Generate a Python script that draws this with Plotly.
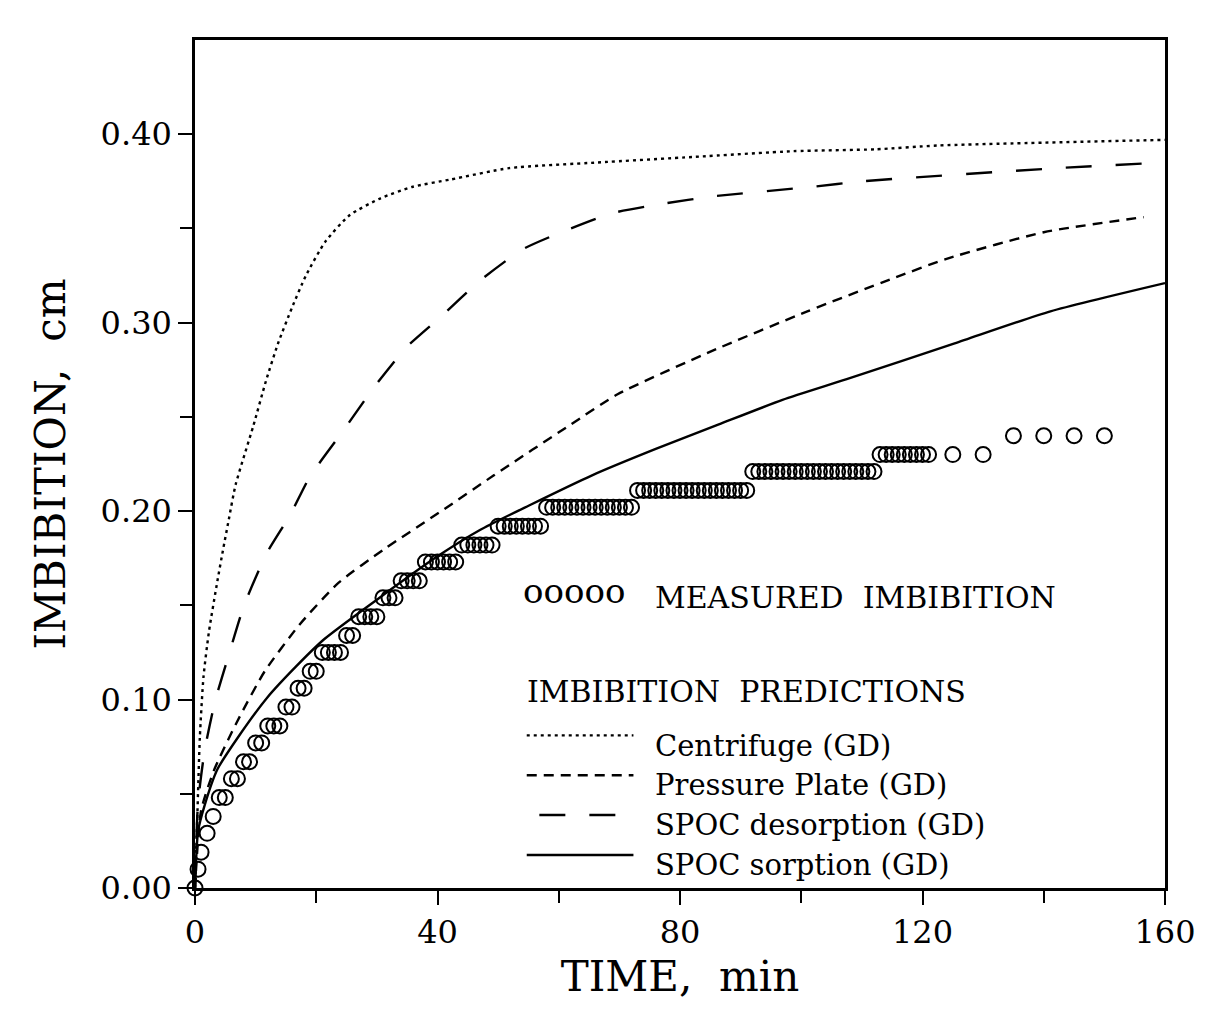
import plotly.graph_objects as go

FONT = "DejaVu Serif"

# ---------------- data ----------------
measured_time = [0, 0.5] + list(range(1, 122)) + [125, 130, 135, 140, 145, 150]
measured_imbibition = [
    0.000, 0.010,
    0.019, 0.029, 0.038, 0.048, 0.048, 0.058, 0.058, 0.067, 0.067, 0.077,
    0.077, 0.086, 0.086, 0.086, 0.096, 0.096, 0.106, 0.106, 0.115, 0.115,
    0.125, 0.125, 0.125, 0.125, 0.134, 0.134, 0.144, 0.144, 0.144, 0.144,
    0.154, 0.154, 0.154, 0.163, 0.163, 0.163, 0.163, 0.173, 0.173, 0.173,
    0.173, 0.173, 0.173, 0.182, 0.182, 0.182, 0.182, 0.182, 0.182, 0.192,
    0.192, 0.192, 0.192, 0.192, 0.192, 0.192, 0.192, 0.202, 0.202, 0.202,
    0.202, 0.202, 0.202, 0.202, 0.202, 0.202, 0.202, 0.202, 0.202, 0.202,
    0.202, 0.202, 0.211, 0.211, 0.211, 0.211, 0.211, 0.211, 0.211, 0.211,
    0.211, 0.211, 0.211, 0.211, 0.211, 0.211, 0.211, 0.211, 0.211, 0.211,
    0.211, 0.221, 0.221, 0.221, 0.221, 0.221, 0.221, 0.221, 0.221, 0.221,
    0.221, 0.221, 0.221, 0.221, 0.221, 0.221, 0.221, 0.221, 0.221, 0.221,
    0.221, 0.221, 0.230, 0.230, 0.230, 0.230, 0.230, 0.230, 0.230, 0.230,
    0.230,
    0.230, 0.230, 0.240, 0.240, 0.240, 0.240,
]

centrifuge_time = [0, 0.4, 0.8, 1.4, 2.3, 3.7, 4.6, 5.6, 6.7, 9.6, 11.7, 13.7, 16.0,
                   18.3, 21.5, 25.5, 30.6, 35.8, 42.2, 51.8, 66.4, 82.5, 98.7,
                   112.3, 122.5, 160]
centrifuge_imb = [0, 0.040, 0.080, 0.112, 0.136, 0.163, 0.179, 0.196, 0.214, 0.245,
                  0.269, 0.289, 0.308, 0.325, 0.343, 0.357, 0.366, 0.372, 0.376,
                  0.382, 0.385, 0.388, 0.391, 0.392, 0.394, 0.397]

pressure_time = [0, 1.0, 3.2, 6.9, 11.5, 17.3, 23.7, 31.3, 41.1, 49.3, 62.0, 69.7,
                 85.3, 101.0, 114.7, 124.1, 140.0, 156.5]
pressure_imb = [0, 0.041, 0.063, 0.088, 0.115, 0.140, 0.162, 0.180, 0.201, 0.219,
                0.246, 0.262, 0.285, 0.306, 0.323, 0.334, 0.348, 0.356]

desorption_time = [0, 0.5, 1.6, 3.3, 5.6, 8.1, 11.9, 15.7, 18.9, 24.3, 29.6, 34.9,
                   40.5, 46.9, 54.1, 61.2, 68.7, 77.0, 85.4, 101.5, 110.0, 142.3, 160]
desorption_imb = [0, 0.045, 0.073, 0.099, 0.124, 0.150, 0.178, 0.198, 0.218, 0.242,
                  0.266, 0.287, 0.303, 0.322, 0.339, 0.349, 0.358, 0.363, 0.367,
                  0.372, 0.375, 0.382, 0.385]

sorption_time = [0, 0.5, 1.6, 3.7, 7.1, 11.9, 16.8, 21.3, 30, 40, 47, 55.1, 65.5,
                 76.0, 86.4, 96.9, 107.5, 125.3, 141.1, 160]
sorption_imb = [0, 0.030, 0.044, 0.063, 0.080, 0.101, 0.118, 0.132, 0.153, 0.176,
                0.190, 0.203, 0.219, 0.233, 0.246, 0.259, 0.270, 0.289, 0.306, 0.321]

x_ticks = [0, 40, 80, 120, 160]
x_minor = [20, 60, 100, 140]
y_ticks = [0.0, 0.1, 0.2, 0.3, 0.4]
y_tick_text = ["0.00", "0.10", "0.20", "0.30", "0.40"]
y_minor = [0.05, 0.15, 0.25, 0.35]

legend_measured = "MEASURED  IMBIBITION"
legend_title = "IMBIBITION  PREDICTIONS"
prediction_names = ["Centrifuge (GD)", "Pressure Plate (GD)",
                    "SPOC desorption (GD)", "SPOC sorption (GD)"]

# ---------------- styles ----------------
DOT = "3px,4px"
SHORT = "10px,7px"
LONG = "26px,24px"
LW = 2.4

fig = go.Figure()

curves = [
    (centrifuge_time, centrifuge_imb, DOT, prediction_names[0]),
    (pressure_time, pressure_imb, SHORT, prediction_names[1]),
    (desorption_time, desorption_imb, LONG, prediction_names[2]),
    (sorption_time, sorption_imb, "solid", prediction_names[3]),
]
for t, v, dash, name in curves:
    fig.add_trace(go.Scatter(
        x=t, y=v, mode="lines", name=name,
        line=dict(color="black", width=LW, dash=dash, shape="spline", smoothing=0.6),
        cliponaxis=True,
    ))

fig.add_trace(go.Scatter(
    x=measured_time, y=measured_imbibition, mode="markers", name="Measured imbibition",
    marker=dict(symbol="circle-open", size=15, color="black", line=dict(width=2)),
    cliponaxis=False,
))

# ---------------- custom in-plot legend ----------------
ann = []
shapes = []
row_line_y = [0.180, 0.133, 0.086, 0.039]
row_text_y = [0.168, 0.121, 0.074, 0.027]
line_x0 = 0.342
line_x1 = 0.452
text_x = 0.472
LEG_SIZE = 29

ann.append(dict(xref="x domain", yref="y domain", x=0.336, y=0.350, xanchor="left",
                yanchor="middle", text="ooooo", showarrow=False,
                font=dict(family=FONT, size=34, color="black")))
ann.append(dict(xref="x domain", yref="y domain", x=text_x, y=0.342, xanchor="left",
                yanchor="middle", text=legend_measured, showarrow=False,
                font=dict(family=FONT, size=LEG_SIZE + 1, color="black")))
ann.append(dict(xref="x domain", yref="y domain", x=0.340, y=0.232, xanchor="left",
                yanchor="middle", text=legend_title, showarrow=False,
                font=dict(family=FONT, size=LEG_SIZE + 1, color="black")))
for i, (t, v, dash, name) in enumerate(curves):
    shapes.append(dict(type="line", xref="x domain", yref="y domain",
                       x0=line_x0 if i != 2 else 0.355, x1=line_x1,
                       y0=row_line_y[i], y1=row_line_y[i],
                       line=dict(color="black", width=LW, dash=dash)))
    ann.append(dict(xref="x domain", yref="y domain", x=text_x, y=row_text_y[i],
                    xanchor="left", yanchor="middle", text=name, showarrow=False,
                    font=dict(family=FONT, size=LEG_SIZE, color="black")))

fig.update_layout(
    width=1207, height=1013,
    margin=dict(l=195, r=42, t=40, b=125),
    paper_bgcolor="white", plot_bgcolor="white",
    showlegend=False,
    font=dict(family=FONT, size=32, color="black"),
    annotations=ann, shapes=shapes,
    xaxis=dict(
        range=[0, 160], tickvals=x_ticks, ticks="outside", ticklen=14, tickwidth=2,
        tickcolor="black", showline=True, linewidth=2.5, linecolor="black", mirror=True,
        showgrid=False, zeroline=False,
        minor=dict(tickvals=x_minor, ticks="outside", ticklen=12, tickwidth=2,
                   tickcolor="black", showgrid=False),
        tickfont=dict(family=FONT, size=32),
        title=dict(text="TIME,  min", font=dict(family=FONT, size=42), standoff=12),
    ),
    yaxis=dict(
        range=[0, 0.45], tickvals=y_ticks, ticktext=y_tick_text, ticks="outside",
        ticklen=14, tickwidth=2, tickcolor="black", showline=True, linewidth=2.5,
        linecolor="black", mirror=True, showgrid=False, zeroline=False,
        minor=dict(tickvals=y_minor, ticks="outside", ticklen=12, tickwidth=2,
                   tickcolor="black", showgrid=False),
        tickfont=dict(family=FONT, size=32),
        title=dict(text="IMBIBITION,  cm", font=dict(family=FONT, size=42), standoff=22),
    ),
)

fig.write_html("out.html")
